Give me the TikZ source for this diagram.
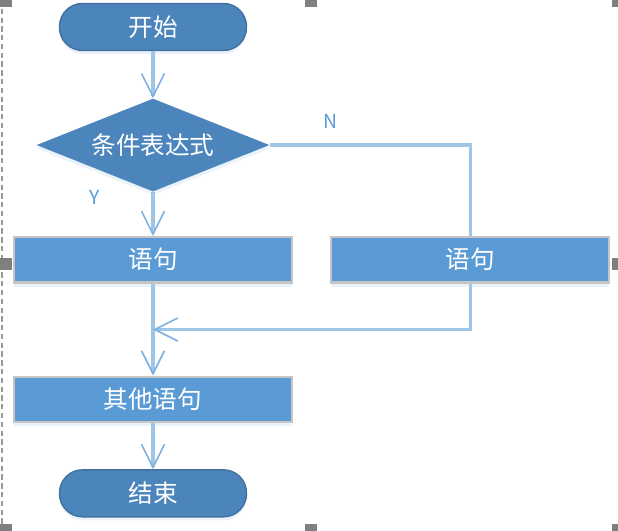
\documentclass[tikz,border=0pt]{standalone}
\usepackage{fontspec}
\setmainfont{Noto Sans CJK SC}
\usetikzlibrary{arrows.meta,positioning,shapes.geometric,shadows,calc}
\definecolor{cTerm}{HTML}{4C85BC}
\definecolor{cTermLine}{HTML}{41719C}
\definecolor{cStmt}{HTML}{5B9BD5}
\definecolor{cFrame}{HTML}{C6C6C6}
\definecolor{cFlow}{HTML}{9FC5E8}
\definecolor{cTip}{HTML}{7DB0E0}
\definecolor{cHandle}{HTML}{7F7F7F}
\tikzset{
  term/.style     = {rectangle, rounded corners=4.6mm, draw=cTermLine, fill=cTerm,
                     line width=0.8pt, minimum width=37.4mm, minimum height=9.4mm,
                     text=white, font=\fontsize{14}{16}\selectfont,
                     drop shadow={shadow xshift=0pt, shadow yshift=-2pt,
                                  opacity=0.25, fill=cStmt!50}},
  decision/.style = {diamond, aspect=2.5, inner sep=0pt, fill=cTerm,
                     minimum width=46.6mm, minimum height=18.6mm,
                     text=white, font=\fontsize{14}{16}\selectfont,
                     drop shadow={shadow xshift=0pt, shadow yshift=-2pt,
                                  opacity=0.25, fill=cStmt!50}},
  stmt/.style     = {rectangle, draw=cFrame, fill=cStmt, line width=1.2pt,
                     minimum width=55.6mm, minimum height=9.1mm,
                     text=white, font=\fontsize{14}{16}\selectfont,
                     drop shadow={shadow xshift=0pt, shadow yshift=-2.5pt,
                                  opacity=0.25, fill=cStmt!50}},
  flow/.style     = {draw=cFlow, line width=1.8pt},
  flowto/.style   = {flow, -{Straight Barb[length=4.6mm, width=4.6mm,
                     line width=0.9pt, color=cTip]}},
  lbl/.style      = {text=cStmt, font=\fontsize{11}{13}\selectfont},
  handle/.style   = {fill=cHandle},
}
\begin{document}
\begin{tikzpicture}[x=0.2mm, y=-0.2mm]
  \useasboundingbox (0,0) rectangle (618,531);
  % frame of the selection
  \draw[cHandle!80, line width=1.2pt, dash pattern=on 3pt off 2pt] (2,0) -- (2,531);
  \fill[handle] (0,0) rectangle (12,7);
  \fill[handle] (305,0) rectangle (317,7);
  \fill[handle] (612,0) rectangle (618,7);
  \fill[handle] (0,258) rectangle (12,270);
  \fill[handle] (612,258) rectangle (618,270);
  \fill[handle] (0,524) rectangle (12,531);
  \fill[handle] (305,524) rectangle (317,531);
  \fill[handle] (612,524) rectangle (618,531);

  \node[term] (start) at (153,27) {开始};
  \node[decision, below=9.4mm of start] (cond) {条件表达式};
  \node[stmt, below=8.8mm of cond] (stmtA) {语句};
  \node[stmt, right=7.4mm of stmtA] (stmtB) {语句};
  \node[stmt, below=18.4mm of stmtA] (rest) {其他语句};
  \node[term, below=9.2mm of rest] (stop) {结束};
  \coordinate (merge) at ($(stmtA.south)!0.5!(rest.north)$);

  \node[lbl] (yes) at (95,197) {Y};
  \node[lbl] (no) at (330,121) {N};

  \draw[flowto] (start) -- (cond);
  \draw[flowto] (cond) -- (stmtA);
  \draw[flow] (cond.east) -| (stmtB.north);
  \draw[flowto] (stmtA) -- (rest);
  \draw[flowto] (stmtB.south) |- (merge);
  \draw[flowto] (rest) -- (stop);
\end{tikzpicture}
\end{document}
